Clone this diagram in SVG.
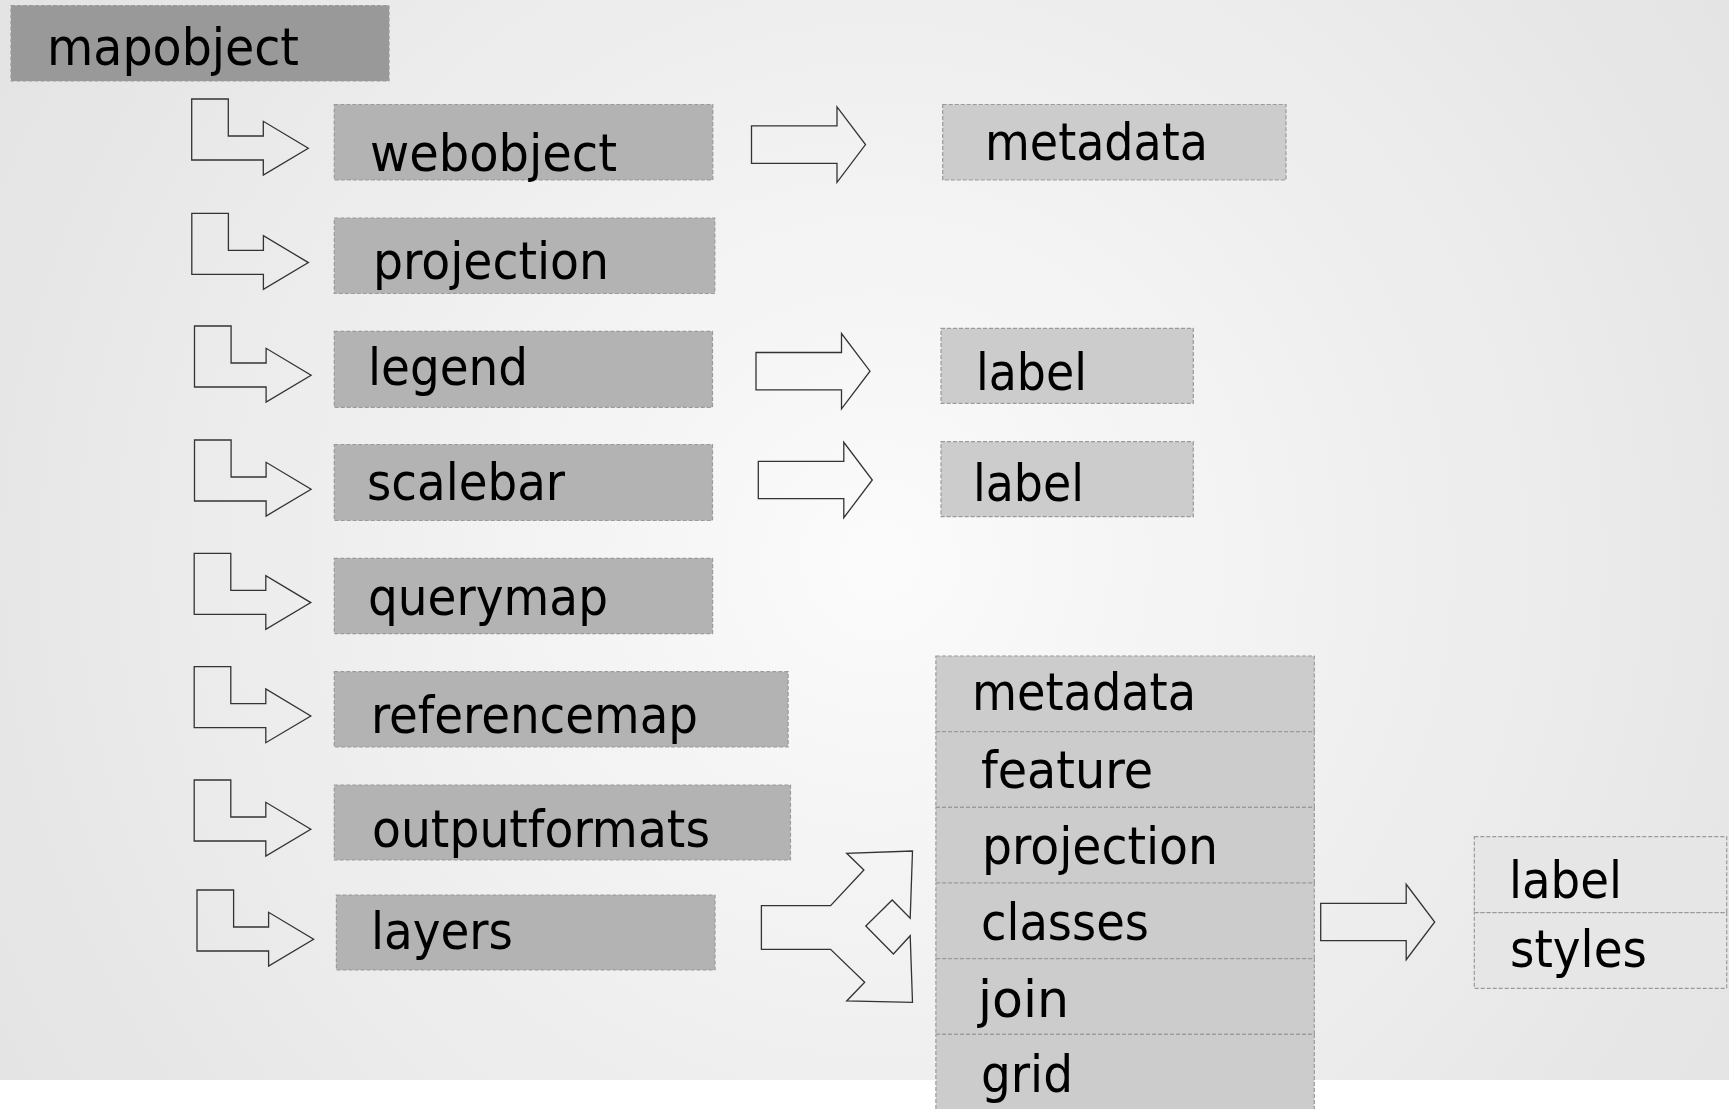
<svg xmlns="http://www.w3.org/2000/svg" xmlns:xlink="http://www.w3.org/1999/xlink" width="1729" height="1109" viewBox="0 0 1729 1109">
<style>
.box{stroke:#9a9a9a;stroke-width:1.2;stroke-dasharray:4 2}
.l1{fill:#999999}
.l2{fill:#b3b3b3}
.l3{fill:#cccccc}
.l4{fill:#e6e6e6}
.t{font-family:"DejaVu Sans Condensed","DejaVu Sans",Tahoma,sans-serif;font-size:52px;fill:#000}
.arr{fill:none;stroke:#333;stroke-width:1.3;stroke-linejoin:miter}
</style>
<defs>
<radialGradient id="bg" gradientUnits="userSpaceOnUse" cx="880" cy="560" r="1000">
<stop offset="0" stop-color="#fbfbfb"/>
<stop offset="1" stop-color="#e4e4e4"/>
</radialGradient>
<path id="bent" d="M0,0 H36.6 V37 H71.6 V22.3 L116.6,49.3 L71.6,76 V61 H0 Z"/>
<path id="straight" d="M0,-18.7 H85.5 V-37.7 L114,0 L85.5,37.7 V18.7 H0 Z"/>
</defs>
<rect x="0" y="0" width="1729" height="1109" fill="#ffffff"/>
<rect x="0" y="0" width="1729" height="1080" fill="url(#bg)"/>

<g id="connectors">
<use xlink:href="#bent" class="arr" x="191.7" y="99"/>
<use xlink:href="#bent" class="arr" x="191.8" y="213.3"/>
<use xlink:href="#bent" class="arr" x="194.5" y="326"/>
<use xlink:href="#bent" class="arr" x="194.5" y="440"/>
<use xlink:href="#bent" class="arr" x="194.2" y="553.3"/>
<use xlink:href="#bent" class="arr" x="194.2" y="666.7"/>
<use xlink:href="#bent" class="arr" x="194.2" y="780"/>
<use xlink:href="#bent" class="arr" x="197" y="890"/>
<use xlink:href="#straight" class="arr" x="751.5" y="144.6"/>
<use xlink:href="#straight" class="arr" x="756" y="371.2"/>
<use xlink:href="#straight" class="arr" x="758.3" y="480"/>
<use xlink:href="#straight" class="arr" x="1320.7" y="922"/>
<path class="arr" d="M761.4,905.7 L830.6,905.7 L863.9,870 L846.7,853.3 L912.5,851 L910.2,918.3 L892.2,900 L865.8,926 L893.4,954 L910.2,935.7 L912.5,1002.3 L846.7,1001 L864.7,982.3 L830.6,949.3 L761.4,949.3 Z"/>
</g>

<g id="mapobject">
<rect class="box l1" x="11" y="5.5" width="378" height="75.5"/>
<text class="t" x="47" y="65" font-size="50" textLength="252" lengthAdjust="spacingAndGlyphs">mapobject</text>
</g>
<g id="webobject">
<rect class="box l2" x="334.3" y="104.5" width="378.5" height="75.5"/>
<text class="t" x="370" y="171" textLength="247" lengthAdjust="spacingAndGlyphs">webobject</text>
</g>
<g id="projection">
<rect class="box l2" x="334.3" y="218" width="380.5" height="75.5"/>
<text class="t" x="373" y="278.5" textLength="236" lengthAdjust="spacingAndGlyphs">projection</text>
</g>
<g id="legend">
<rect class="box l2" x="334.3" y="331.3" width="378.2" height="76"/>
<text class="t" x="368" y="385" textLength="160" lengthAdjust="spacingAndGlyphs">legend</text>
</g>
<g id="scalebar">
<rect class="box l2" x="334.3" y="444.5" width="378.2" height="76"/>
<text class="t" x="367" y="500" textLength="198" lengthAdjust="spacingAndGlyphs">scalebar</text>
</g>
<g id="querymap">
<rect class="box l2" x="334.3" y="558.3" width="378.3" height="75.4"/>
<text class="t" x="368" y="615" textLength="240" lengthAdjust="spacingAndGlyphs">querymap</text>
</g>
<g id="referencemap">
<rect class="box l2" x="334.3" y="671.7" width="453.8" height="75.3"/>
<text class="t" x="371" y="732.7" textLength="327" lengthAdjust="spacingAndGlyphs">referencemap</text>
</g>
<g id="outputformats">
<rect class="box l2" x="334.3" y="785" width="456.2" height="75"/>
<text class="t" x="372" y="846.7" textLength="338" lengthAdjust="spacingAndGlyphs">outputformats</text>
</g>
<g id="layers">
<rect class="box l2" x="336.4" y="895" width="378.6" height="75"/>
<text class="t" x="371" y="949.3" textLength="142" lengthAdjust="spacingAndGlyphs">layers</text>
</g>

<g id="web-metadata">
<rect class="box l3" x="942.7" y="104.5" width="343.3" height="75.5"/>
<text class="t" x="985" y="160" textLength="223" lengthAdjust="spacingAndGlyphs">metadata</text>
</g>
<g id="legend-label">
<rect class="box l3" x="941" y="328.3" width="252.3" height="75"/>
<text class="t" x="976" y="390" textLength="111" lengthAdjust="spacingAndGlyphs">label</text>
</g>
<g id="scalebar-label">
<rect class="box l3" x="941" y="441.7" width="252.3" height="75"/>
<text class="t" x="973" y="501" textLength="111" lengthAdjust="spacingAndGlyphs">label</text>
</g>

<g id="layer-members">
<rect class="box l3" x="935.9" y="656" width="378.4" height="75.7"/>
<text class="t" x="972" y="710" textLength="224" lengthAdjust="spacingAndGlyphs">metadata</text>
<rect class="box l3" x="935.9" y="731.7" width="378.4" height="75.6"/>
<text class="t" x="981" y="788.3" textLength="172" lengthAdjust="spacingAndGlyphs">feature</text>
<rect class="box l3" x="935.9" y="807.3" width="378.4" height="75.7"/>
<text class="t" x="982" y="864" textLength="236" lengthAdjust="spacingAndGlyphs">projection</text>
<rect class="box l3" x="935.9" y="883" width="378.4" height="75.7"/>
<text class="t" x="981" y="940" textLength="168" lengthAdjust="spacingAndGlyphs">classes</text>
<rect class="box l3" x="935.9" y="958.7" width="378.4" height="75.6"/>
<text class="t" x="978" y="1016.7" textLength="91" lengthAdjust="spacingAndGlyphs">join</text>
<rect class="box l3" x="935.9" y="1034.3" width="378.4" height="76"/>
<text class="t" x="981" y="1092.3" textLength="92" lengthAdjust="spacingAndGlyphs">grid</text>
</g>

<g id="class-members">
<rect class="box l4" x="1474.3" y="836.7" width="252.4" height="76"/>
<text class="t" x="1509" y="897.7" textLength="113" lengthAdjust="spacingAndGlyphs">label</text>
<rect class="box l4" x="1474.3" y="912.7" width="252.4" height="75.6"/>
<text class="t" x="1510" y="966.7" textLength="137" lengthAdjust="spacingAndGlyphs">styles</text>
</g>
</svg>
